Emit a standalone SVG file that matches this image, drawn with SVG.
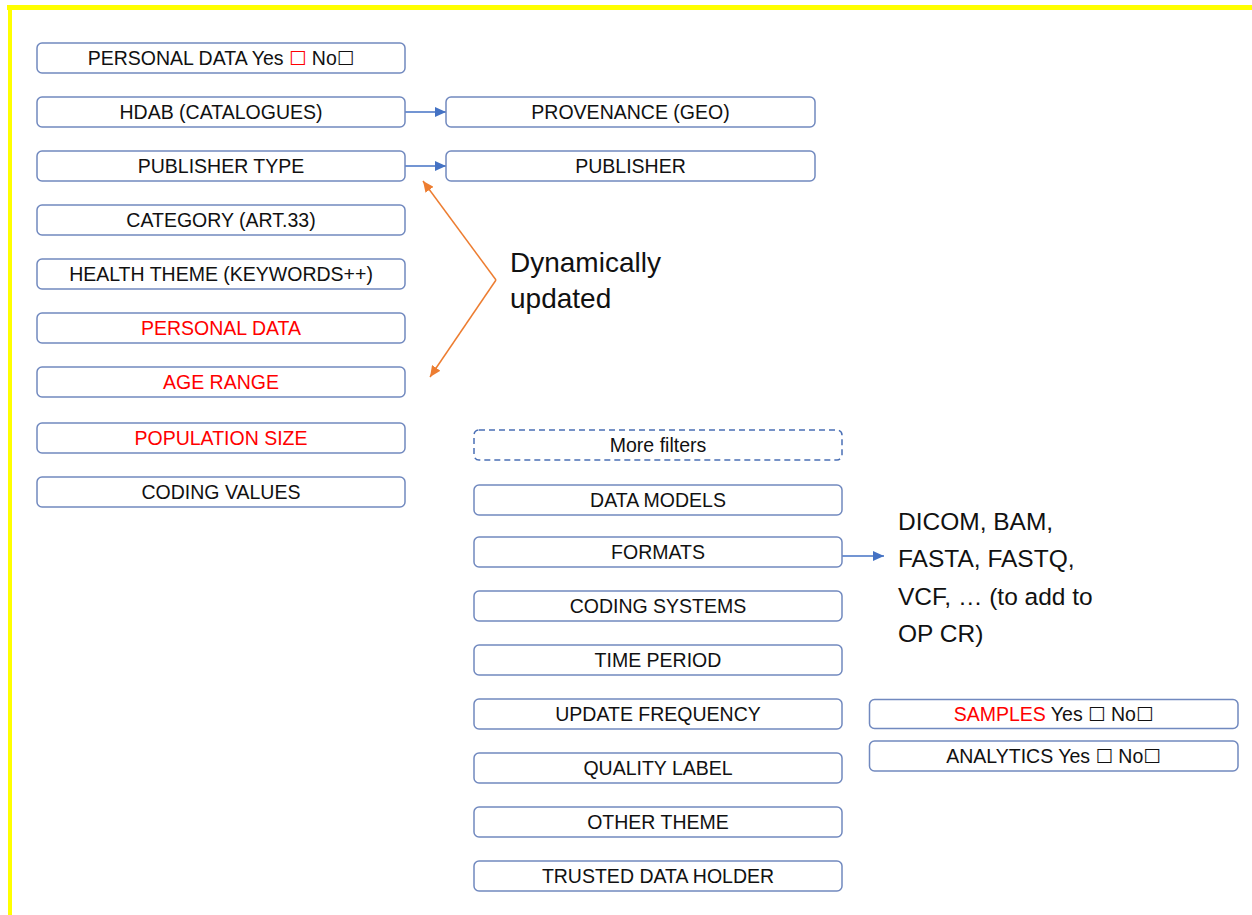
<svg xmlns="http://www.w3.org/2000/svg" width="1252" height="915" viewBox="0 0 1252 915">
<style>
.box{fill:#ffffff;stroke:#7189BF;stroke-width:1.5}
.dash{fill:#ffffff;stroke:#4A6FB5;stroke-width:1.5;stroke-dasharray:6 4}
.t{font-family:"Liberation Sans",Arial,sans-serif;font-size:19.5px;fill:#111111;text-anchor:middle}
.red{fill:#FF0000}
.cb{font-family:"DejaVu Sans",sans-serif}
.big{font-family:"Liberation Sans",Arial,sans-serif;fill:#111111}
.blue{stroke:#4472C4;stroke-width:1.5;fill:none}
.orange{stroke:#ED7D31;stroke-width:1.5;fill:none}
</style>
<defs>
<marker id="ab" markerUnits="userSpaceOnUse" markerWidth="12" markerHeight="10" refX="11" refY="5" orient="auto">
<path d="M0,0 L11,5 L0,10 Z" fill="#4472C4"/>
</marker>
<marker id="ao" markerUnits="userSpaceOnUse" markerWidth="12" markerHeight="10" refX="11" refY="5" orient="auto">
<path d="M0,0 L11,5 L0,10 Z" fill="#ED7D31"/>
</marker>
</defs>
<rect width="1252" height="915" fill="#ffffff"/>
<g id="frame">
<rect x="7" y="5" width="1245" height="5" fill="#FFFF00"/>
<rect x="8" y="5" width="4" height="910" fill="#FFFF00"/>
</g>
<g id="connectors">
<line class="blue" x1="405" y1="112" x2="446" y2="112" marker-end="url(#ab)"/>
<line class="blue" x1="405" y1="166" x2="446" y2="166" marker-end="url(#ab)"/>
<line class="blue" x1="842" y1="556" x2="884" y2="556" marker-end="url(#ab)"/>
<line class="orange" x1="496" y1="280" x2="423" y2="181" marker-end="url(#ao)"/>
<line class="orange" x1="496" y1="280" x2="430" y2="377" marker-end="url(#ao)"/>
</g>
<g id="n-personal-yn"><rect class="box" x="37" y="43" width="368" height="30" rx="5"/><text class="t" x="221" y="65">PERSONAL DATA Yes <tspan class="cb red">☐</tspan> No<tspan class="cb">☐</tspan></text></g>
<g id="n-hdab"><rect class="box" x="37" y="97" width="368" height="30" rx="5"/><text class="t" x="221" y="119">HDAB (CATALOGUES)</text></g>
<g id="n-publisher-type"><rect class="box" x="37" y="151" width="368" height="30" rx="5"/><text class="t" x="221" y="173">PUBLISHER TYPE</text></g>
<g id="n-category"><rect class="box" x="37" y="205" width="368" height="30" rx="5"/><text class="t" x="221" y="227">CATEGORY (ART.33)</text></g>
<g id="n-health-theme"><rect class="box" x="37" y="259" width="368" height="30" rx="5"/><text class="t" x="221" y="281">HEALTH THEME (KEYWORDS++)</text></g>
<g id="n-personal-data"><rect class="box" x="37" y="313" width="368" height="30" rx="5"/><text class="t red" x="221" y="335">PERSONAL DATA</text></g>
<g id="n-age-range"><rect class="box" x="37" y="367" width="368" height="30" rx="5"/><text class="t red" x="221" y="389">AGE RANGE</text></g>
<g id="n-population"><rect class="box" x="37" y="423" width="368" height="30" rx="5"/><text class="t red" x="221" y="445">POPULATION SIZE</text></g>
<g id="n-coding-values"><rect class="box" x="37" y="477" width="368" height="30" rx="5"/><text class="t" x="221" y="499">CODING VALUES</text></g>
<g id="n-provenance"><rect class="box" x="446" y="97" width="369" height="30" rx="5"/><text class="t" x="630.5" y="119">PROVENANCE (GEO)</text></g>
<g id="n-publisher"><rect class="box" x="446" y="151" width="369" height="30" rx="5"/><text class="t" x="630.5" y="173">PUBLISHER</text></g>
<g id="n-dynamic"><text class="big" font-size="28" x="510" y="272">Dynamically</text><text class="big" font-size="28" x="510" y="308">updated</text></g>
<g id="n-more-filters"><rect class="dash" x="474" y="430" width="368" height="30" rx="5"/><text class="t" x="658" y="452">More filters</text></g>
<g id="n-data-models"><rect class="box" x="474" y="485" width="368" height="30" rx="5"/><text class="t" x="658" y="507">DATA MODELS</text></g>
<g id="n-formats"><rect class="box" x="474" y="537" width="368" height="30" rx="5"/><text class="t" x="658" y="559">FORMATS</text></g>
<g id="n-coding-systems"><rect class="box" x="474" y="591" width="368" height="30" rx="5"/><text class="t" x="658" y="613">CODING SYSTEMS</text></g>
<g id="n-time-period"><rect class="box" x="474" y="645" width="368" height="30" rx="5"/><text class="t" x="658" y="667">TIME PERIOD</text></g>
<g id="n-update-frequency"><rect class="box" x="474" y="699" width="368" height="30" rx="5"/><text class="t" x="658" y="721">UPDATE FREQUENCY</text></g>
<g id="n-quality-label"><rect class="box" x="474" y="753" width="368" height="30" rx="5"/><text class="t" x="658" y="775">QUALITY LABEL</text></g>
<g id="n-other-theme"><rect class="box" x="474" y="807" width="368" height="30" rx="5"/><text class="t" x="658" y="829">OTHER THEME</text></g>
<g id="n-trusted"><rect class="box" x="474" y="861" width="368" height="30" rx="5"/><text class="t" x="658" y="883">TRUSTED DATA HOLDER</text></g>
<g id="n-format-list"><text class="big" font-size="24.5"><tspan x="898" y="530">DICOM, BAM,</tspan><tspan x="898" y="567">FASTA, FASTQ,</tspan><tspan x="898" y="605">VCF, … (to add to</tspan><tspan x="898" y="642">OP CR)</tspan></text></g>
<g id="n-samples"><rect class="box" x="869.5" y="699.5" width="368.5" height="29" rx="5"/><text class="t" x="1053.5" y="721"><tspan class="red">SAMPLES</tspan> Yes <tspan class="cb">☐</tspan> No<tspan class="cb">☐</tspan></text></g>
<g id="n-analytics"><rect class="box" x="869.5" y="741" width="368.5" height="30" rx="5"/><text class="t" x="1053.5" y="763">ANALYTICS Yes <tspan class="cb">☐</tspan> No<tspan class="cb">☐</tspan></text></g>
</svg>
